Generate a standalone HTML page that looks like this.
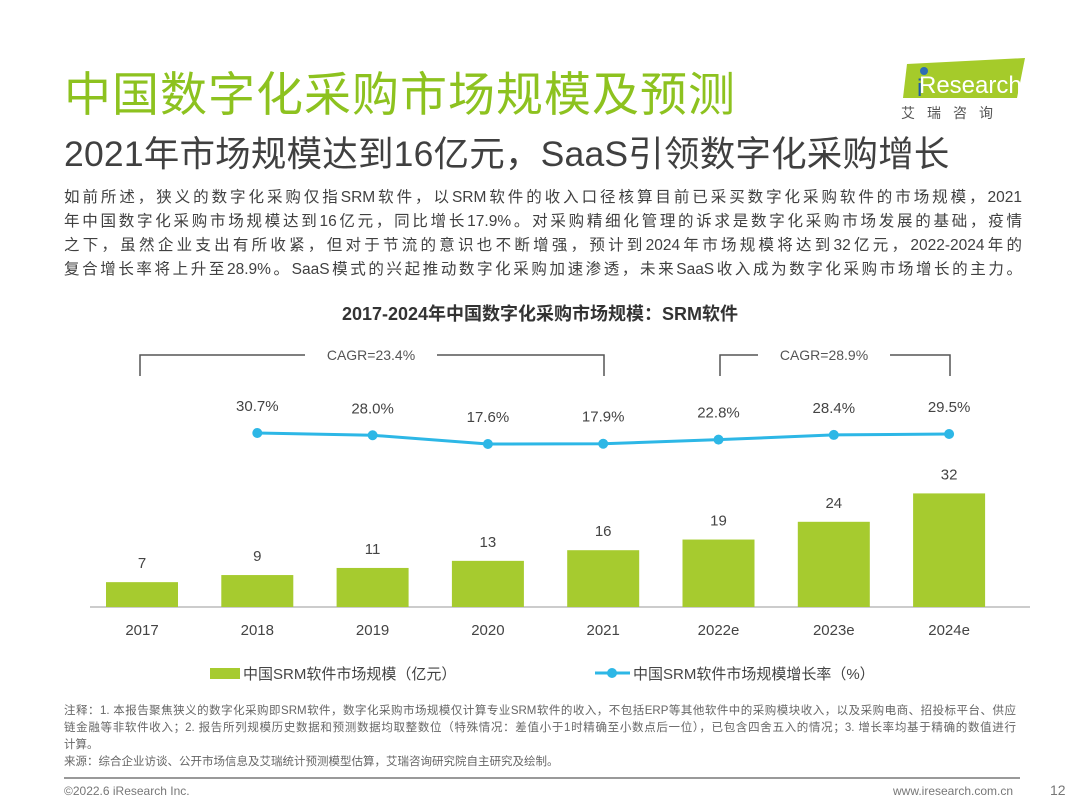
<!DOCTYPE html>
<html><head><meta charset="utf-8">
<style>
body{margin:0;width:1080px;height:810px;background:#fff;font-family:"Liberation Sans","Noto Sans CJK SC",sans-serif;overflow:hidden;position:relative}
.a{position:absolute;white-space:nowrap}
.j{display:block;white-space:nowrap;text-align:justify;text-align-last:justify}
.n{display:block;white-space:nowrap}
</style></head><body>
<div class="a" style="left:64px;top:56px;font-size:47px;color:#8dc21f;letter-spacing:1px">中国数字化采购市场规模及预测</div>
<div class="a" style="left:64px;top:126px;font-size:35.5px;color:#404040;letter-spacing:0.2px">2021年市场规模达到16亿元，SaaS引领数字化采购增长</div>
<div class="a" style="left:895px;top:56px;width:135px;height:64px">
 <svg width="135" height="64"><polygon points="12,8 130,2 122,42 8,42" fill="#a5cb2a"/><circle cx="29" cy="15" r="4" fill="#2e6db5"/><text x="24" y="37" font-size="24" fill="#fff" font-family="Liberation Sans, sans-serif">Research</text><text x="22" y="40" font-size="24" fill="#1e5aa8">i</text><text x="6" y="62" font-size="14" fill="#555" letter-spacing="12" font-family="Noto Sans CJK SC, sans-serif">艾瑞咨询</text></svg>
</div>
<div class="a" style="left:64px;top:186px;font-size:15.5px;line-height:24px;color:#404040;width:958px">
<span class="j">如前所述，狭义的数字化采购仅指SRM软件，以SRM软件的收入口径核算目前已采买数字化采购软件的市场规模，2021</span>
<span class="j">年中国数字化采购市场规模达到16亿元，同比增长17.9%。对采购精细化管理的诉求是数字化采购市场发展的基础，疫情</span>
<span class="j">之下，虽然企业支出有所收紧，但对于节流的意识也不断增强，预计到2024年市场规模将达到32亿元，2022-2024年的</span>
<span class="j">复合增长率将上升至28.9%。SaaS模式的兴起推动数字化采购加速渗透，未来SaaS收入成为数字化采购市场增长的主力。</span>
</div>
<div class="a" style="left:0;width:1080px;text-align:center;top:300px;font-size:18px;font-weight:bold;color:#333">2017-2024年中国数字化采购市场规模：SRM软件</div>
<svg id="chart" class="a" style="left:0;top:0" width="1080" height="700"></svg>
<div class="a" style="left:64px;top:703px;font-size:11.5px;line-height:17px;color:#666;width:952px">
<span class="j">注释：1. 本报告聚焦狭义的数字化采购即SRM软件，数字化采购市场规模仅计算专业SRM软件的收入，不包括ERP等其他软件中的采购模块收入，以及采购电商、招投标平台、供应</span>
<span class="j">链金融等非软件收入；2. 报告所列规模历史数据和预测数据均取整数位（特殊情况：差值小于1时精确至小数点后一位），已包含四舍五入的情况；3. 增长率均基于精确的数值进行</span>
<span class="n">计算。</span>
<span class="n">来源：综合企业访谈、公开市场信息及艾瑞统计预测模型估算，艾瑞咨询研究院自主研究及绘制。</span>
</div>
<div class="a" style="left:64px;top:777px;width:956px;height:2px;background:#999"></div>
<div class="a" style="left:64px;top:784px;font-size:12px;color:#777">©2022.6 iResearch Inc.</div>
<div class="a" style="left:893px;top:784px;font-size:12px;color:#777">www.iresearch.com.cn</div>
<div class="a" style="left:1050px;top:782px;font-size:14px;color:#777">12</div>
<script>
const categories=["2017","2018","2019","2020","2021","2022e","2023e","2024e"];
const marketSize=[7,9,11,13,16,19,24,32];
const growthRate=[null,30.7,28.0,17.6,17.9,22.8,28.4,29.5];
const growthLabels=["","30.7%","28.0%","17.6%","17.9%","22.8%","28.4%","29.5%"];
const svg=document.getElementById('chart');
const NS='http://www.w3.org/2000/svg';
const x0=142,step=115.3,base=607,barW=72;
const xPos=i=>x0+i*step;
const yBar=v=>base-v*3.55;
const yLine=v=>444-(v-17.6)*0.84;
function mk(t,attrs){const e=document.createElementNS(NS,t);for(const k in attrs)e.setAttribute(k,attrs[k]);svg.appendChild(e);return e;}
let ax=mk('line',{x1:90,x2:1030,y1:base,y2:base,stroke:'#bbb','stroke-width':1.5});


categories.forEach((c,i)=>{
 const b=mk('rect',{x:xPos(i)-barW/2,y:yBar(marketSize[i]),width:barW,height:base-yBar(marketSize[i]),fill:'#a6cb2f'});
 
 
 const t=mk('text',{x:xPos(i),y:yBar(marketSize[i])-14,'text-anchor':'middle','font-size':15,fill:'#444'});t.textContent=marketSize[i];
 
 
 const l=mk('text',{x:xPos(i),y:635,'text-anchor':'middle','font-size':15,fill:'#444'});l.textContent=c;
 
 
});
let pts=[];growthRate.forEach((v,i)=>{if(v!==null)pts.push([xPos(i),yLine(v)]);});
const pl=mk('polyline',{points:pts.map(p=>p.join(',')).join(' '),fill:'none',stroke:'#2db7e6','stroke-width':3});


growthRate.forEach((v,i)=>{if(v===null)return;
 const c=mk('circle',{cx:xPos(i),cy:yLine(v),r:5,fill:'#2db7e6'});
 
 
 const t=mk('text',{x:xPos(i),y:yLine(v)-22,'text-anchor':'middle','font-size':15,fill:'#444'});t.textContent=growthLabels[i];
 
 
});
function bracket(x1,x2,g1,g2,label,name){
 const p=mk('path',{d:`M${x1},376 V355 H${g1} M${g2},355 H${x2} V376`,fill:'none',stroke:'#555','stroke-width':1.5});
 
 
 const t=mk('text',{x:(g1+g2)/2,y:360,'text-anchor':'middle','font-size':14,fill:'#555'});t.textContent=label;
 
 
}
bracket(140,604,305,437,'CAGR=23.4%','cagr-bracket-2017-2021');
bracket(720,950,758,890,'CAGR=28.9%','cagr-bracket-2022-2024');
const lb=mk('rect',{x:210,y:668,width:30,height:11,fill:'#a6cb2f'});


const lt=mk('text',{x:243,y:679,'font-size':15,fill:'#444'});lt.textContent='中国SRM软件市场规模（亿元）';


const ll=mk('line',{x1:595,x2:630,y1:673,y2:673,stroke:'#2db7e6','stroke-width':3});


const lm=mk('circle',{cx:612,cy:673,r:5,fill:'#2db7e6'});


const l2=mk('text',{x:633,y:679,'font-size':15,fill:'#444'});l2.textContent='中国SRM软件市场规模增长率（%）';


</script>
</body></html>
